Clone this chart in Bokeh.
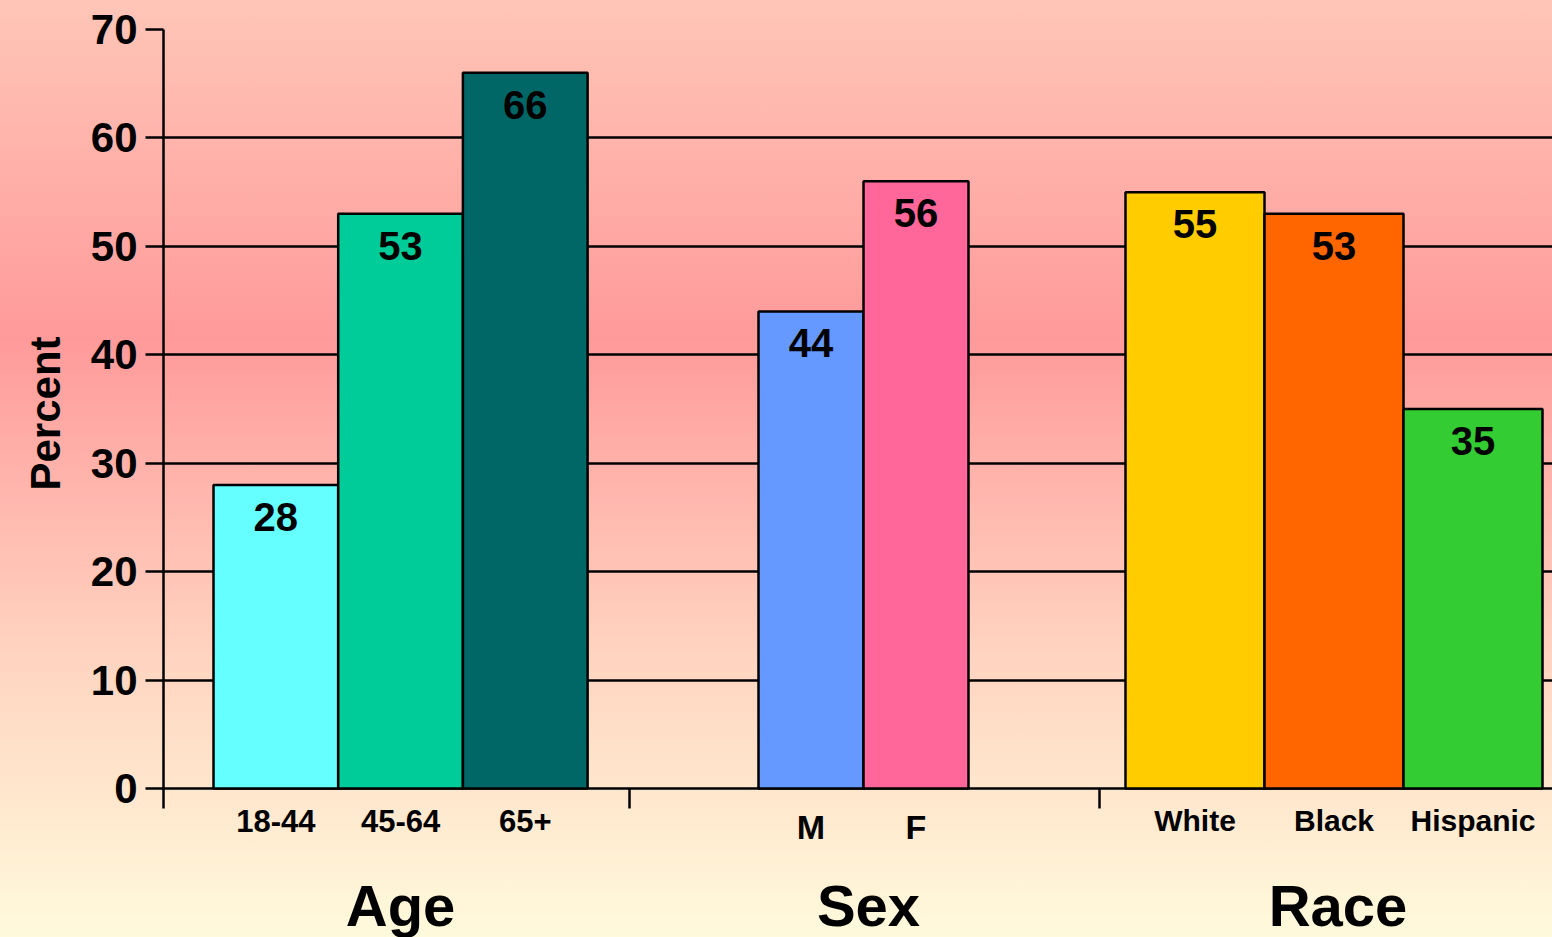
from bokeh.plotting import figure
from bokeh.models import Range1d, FixedTicker, ColumnDataSource, LabelSet, Title
from bokeh.core.properties import value
from bokeh.embed import file_html
from bokeh.resources import INLINE

# ---- data ----
groups = ["Age", "Sex", "Race"]
categories = [["18-44", "45-64", "65+"], ["M", "F"], ["White", "Black", "Hispanic"]]
values = [[28, 53, 66], [44, 56], [55, 53, 35]]
colors = [["#66FFFF", "#00CC99", "#006666"],
          ["#6699FF", "#FF6699"],
          ["#FFCC00", "#FF6600", "#33CC33"]]
y_ticks = [0, 10, 20, 30, 40, 50, 60, 70]

# ---- layout (screen-like x units) ----
group_left = [50, 595, 962]
bar_width = [124.7, 105, 139]
group_bounds = [0, 466, 936]
title_shift = [0, 5, 4]
cat_font = ["31px", "34px", "30px"]
cat_drop = [-32, -38, -32]
y_bottom = -13.74      # frame extends below zero so the labels sit inside it
sep_len = -1.84        # separator tick length below zero (data units)

FONT = "Liberation Sans"

lefts, rights, tops, fills, cats, cxs = [], [], [], [], [], []
for g in range(len(groups)):
    for i, (c, v, col) in enumerate(zip(categories[g], values[g], colors[g])):
        l = group_left[g] + i * bar_width[g]
        r = l + bar_width[g]
        lefts.append(l); rights.append(r); tops.append(v); fills.append(col)
        cats.append(c); cxs.append((l + r) / 2)

bars = ColumnDataSource(dict(left=lefts, right=rights, top=tops, bottom=[0] * len(tops),
                             fill=fills, cat=cats, x=cxs, label=[str(t) for t in tops]))

gcx = [group_left[g] + len(categories[g]) * bar_width[g] / 2 + title_shift[g]
       for g in range(len(groups))]
gsrc = ColumnDataSource(dict(x=gcx, y=[0] * len(groups), text=groups))

p = figure(width=1552, height=937, output_backend="svg", toolbar_location=None,
           x_range=Range1d(0, 1389), y_range=Range1d(y_bottom, 70),
           min_border_left=163, min_border_right=0, min_border_top=29, min_border_bottom=0)
p.styles = {"background": "linear-gradient(to bottom, #FFC6B8 0%, #FF9A9A 36%, #FFD4C0 70%, #FFFADC 100%)"}
p.background_fill_alpha = 0
p.border_fill_alpha = 0
p.outline_line_color = None
p.xaxis.visible = False

# group separator ticks below the baseline
p.segment(x0=group_bounds[1:], y0=[0] * 2, x1=group_bounds[1:], y1=[sep_len] * 2,
          line_color="black", line_width=2.5)

# bars
p.quad(left="left", right="right", top="top", bottom="bottom", source=bars,
       fill_color="fill", line_color="black", line_width=2.5)

# value labels
p.add_layout(LabelSet(x="x", y="top", text="label", source=bars, y_offset=-32,
                      text_align="center", text_baseline="middle",
                      text_font=value(FONT), text_font_style="bold", text_font_size="40px",
                      text_color="black"))
# category labels
for g in range(len(groups)):
    idx = [k for k, c in enumerate(cats) if c in categories[g]]
    src = ColumnDataSource(dict(x=[cxs[k] for k in idx], y=[0] * len(idx),
                                text=[cats[k] for k in idx]))
    p.add_layout(LabelSet(x="x", y="y", text="text", source=src, y_offset=cat_drop[g],
                          text_align="center", text_baseline="middle",
                          text_font=value(FONT), text_font_style="bold",
                          text_font_size=cat_font[g], text_color="black"))
# group titles
p.add_layout(LabelSet(x="x", y="y", text="text", source=gsrc, y_offset=-117,
                      text_align="center", text_baseline="middle",
                      text_font=value(FONT), text_font_style="bold", text_font_size="58px",
                      text_color="black"))

# y axis
ya = p.yaxis[0]
ya.ticker = FixedTicker(ticks=y_ticks)
ya.bounds = (sep_len, 70)
ya.major_tick_out = 18
ya.major_tick_in = 0
ya.minor_tick_line_color = None
ya.axis_line_width = 2.5
ya.major_tick_line_width = 2.5
ya.axis_line_color = "black"
ya.major_tick_line_color = "black"
ya.major_label_text_font = FONT
ya.major_label_text_font_style = "bold"
ya.major_label_text_font_size = "42px"
ya.major_label_text_color = "black"
ya.major_label_standoff = 8

# "Percent" axis title, placed beside the 0-70 span
p.add_layout(Title(text="Percent", align="left", offset=447, standoff=38,
                   text_font=FONT, text_font_style="bold", text_font_size="42px",
                   text_color="black"), "left")

p.xgrid.visible = False
p.ygrid.ticker = FixedTicker(ticks=y_ticks)
p.ygrid.grid_line_color = "black"
p.ygrid.grid_line_width = 2.5

open("out.html", "w").write(file_html(p, INLINE))
